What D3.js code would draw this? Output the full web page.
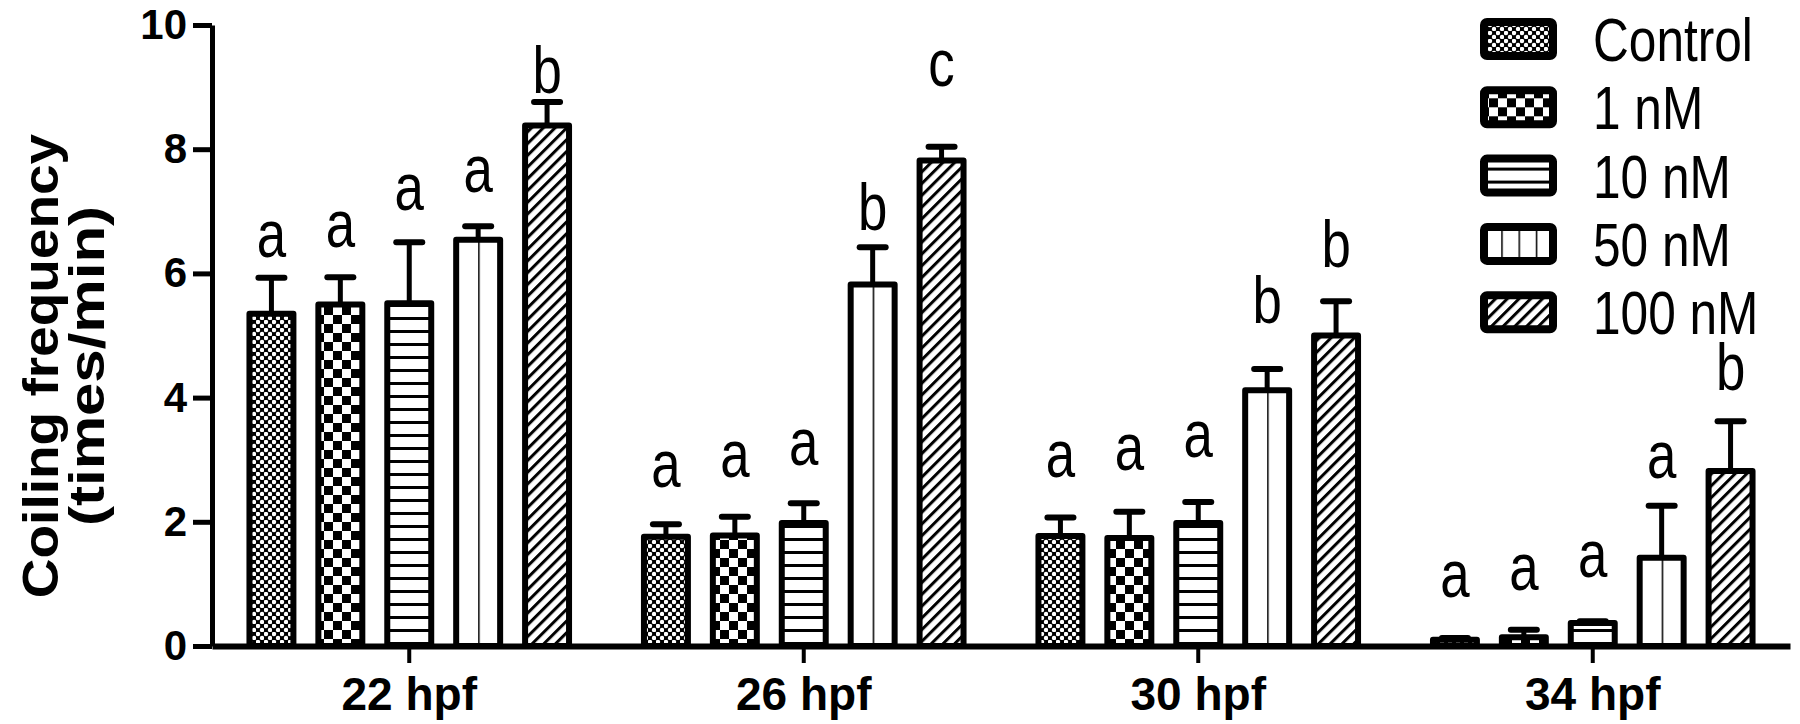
<!DOCTYPE html>
<html>
<head>
<meta charset="utf-8">
<script src="https://cdn.jsdelivr.net/npm/d3@7/dist/d3.min.js"></script>
<style>
body{margin:0;background:#fff}
text{font-family:"Liberation Sans",Arial,sans-serif;fill:#000}
</style>
</head>
<body>
<svg id="chart" width="1800" height="724"></svg>
<script>

var groups = ["22 hpf","26 hpf","30 hpf","34 hpf"]
var series = ["Control","1 nM","10 nM","50 nM","100 nM"]

// mean coiling frequency, one value per time point
var control = [5.35,1.76,1.77,0.10]
var nm1 = [5.50,1.78,1.74,0.14]
var nm10 = [5.52,1.98,1.98,0.37]
var nm50 = [6.54,5.82,4.12,1.42]
var nm100 = [8.38,7.82,5.00,2.82]

// upper error bars
var errControl = [0.58,0.20,0.30,0.03]
var err1 = [0.44,0.30,0.42,0.12]
var err10 = [0.98,0.32,0.34,0.03]
var err50 = [0.22,0.60,0.34,0.84]
var err100 = [0.38,0.22,0.55,0.80]

// significance letters, per time point
var letters22 = ["a","a","a","a","b"]
var letters26 = ["a","a","a","b","c"]
var letters30 = ["a","a","a","b","b"]
var letters34 = ["a","a","a","a","b"]
// where each letter sits, in axis units
var letterAt22 = [6.26,6.42,7.02,7.31,8.9]
var letterAt26 = [2.56,2.72,2.92,6.7,9.02]
var letterAt30 = [2.72,2.83,3.04,5.2,6.1]
var letterAt34 = [0.79,0.9,1.11,2.7,4.12]

var yTicks = [0,2,4,6,8,10]

var means = [control,nm1,nm10,nm50,nm100]
var errs = [errControl,err1,err10,err50,err100]
var letters = [letters22,letters26,letters30,letters34]
var letterAt = [letterAt22,letterAt26,letterAt30,letterAt34]
var fills = ["url(#p-dots)","url(#p-check)","url(#p-hline)","url(#p-vline)","url(#p-hatch)"]
var legendFills = ["url(#p-dots)","url(#p-check)","url(#p-hline)","url(#p-vline-leg)","url(#p-hatch)"]

var rows = []
groups.forEach((g,gi)=>{
	series.forEach((s,si)=>{
		rows.push({group:g,series:s,si:si,mean:means[si][gi],err:errs[si][gi],letter:letters[gi][si],at:letterAt[gi][si]})
	})
})

var svg = d3.select("#chart")
var defs = svg.append("defs")

// control: fine dots
var p = defs.append("pattern").attr("id","p-dots").attr("patternUnits","userSpaceOnUse").attr("width",8).attr("height",8)
p.append("rect").attr("width",8).attr("height",8).attr("fill","#000")
p.append("circle").attr("cx",2).attr("cy",2).attr("r",2.2).attr("fill","#fff")
p.append("circle").attr("cx",6).attr("cy",6).attr("r",2.2).attr("fill","#fff")

// 1 nM: checkerboard
p = defs.append("pattern").attr("id","p-check").attr("patternUnits","userSpaceOnUse").attr("width",18).attr("height",18)
p.append("rect").attr("width",18).attr("height",18).attr("fill","#fff")
p.append("rect").attr("width",9).attr("height",9).attr("fill","#000")
p.append("rect").attr("x",9).attr("y",9).attr("width",9).attr("height",9).attr("fill","#000")

// 10 nM: horizontal lines
p = defs.append("pattern").attr("id","p-hline").attr("patternUnits","userSpaceOnUse").attr("width",13).attr("height",13)
p.append("rect").attr("width",13).attr("height",13).attr("fill","#fff")
p.append("rect").attr("y",5).attr("width",13).attr("height",3).attr("fill","#000")

// 50 nM: one vertical line through the middle of a bar
p = defs.append("pattern").attr("id","p-vline").attr("patternUnits","objectBoundingBox").attr("width",0.5).attr("height",1)
p.append("rect").attr("width",100).attr("height",2000).attr("fill","#fff")
p.append("rect").attr("x",-1.5).attr("width",3).attr("height",2000).attr("fill","#000")
p = defs.append("pattern").attr("id","p-vline-leg").attr("patternUnits","objectBoundingBox").attr("width",0.25).attr("height",1)
p.append("rect").attr("width",100).attr("height",200).attr("fill","#fff")
p.append("rect").attr("x",-1.5).attr("width",3).attr("height",200).attr("fill","#000")

// 100 nM: diagonal hatch
p = defs.append("pattern").attr("id","p-hatch").attr("patternUnits","userSpaceOnUse").attr("width",8.3).attr("height",8.3)
	.attr("patternTransform","rotate(45)")
p.append("rect").attr("width",8.3).attr("height",8.3).attr("fill","#fff")
p.append("rect").attr("width",3).attr("height",8.3).attr("fill","#000")

var x0 = d3.scaleBand().domain(groups).range([212,1790]).padding(0)
var x1 = d3.scaleBand().domain(series).range([0,x0.bandwidth()]).paddingInner(0.275).paddingOuter(0.5)
var y = d3.scaleLinear().domain([0,10]).range([646,25])

var bw = 6 // bar outline

var bars = svg.append("g")
bars.selectAll("rect.bar").data(rows).enter().append("rect")
	.attr("class","bar")
	.attr("x",d=>x0(d.group)+x1(d.series)+bw/2)
	.attr("width",x1.bandwidth()-bw)
	.attr("y",d=>y(d.mean))
	.attr("height",d=>y(0)-y(d.mean))
	.attr("fill",d=>fills[d.si])
	.attr("stroke","#000")
	.attr("stroke-width",bw)
	.attr("stroke-linejoin","round")

// error bars
bars.selectAll("line.err").data(rows).enter().append("line")
	.attr("x1",d=>x0(d.group)+x1(d.series)+x1.bandwidth()/2)
	.attr("x2",d=>x0(d.group)+x1(d.series)+x1.bandwidth()/2)
	.attr("y1",d=>y(d.mean))
	.attr("y2",d=>y(d.mean+d.err))
	.attr("stroke","#000").attr("stroke-width",5)
bars.selectAll("line.cap").data(rows).enter().append("line")
	.attr("x1",d=>x0(d.group)+x1(d.series)+x1.bandwidth()/2-13)
	.attr("x2",d=>x0(d.group)+x1(d.series)+x1.bandwidth()/2+13)
	.attr("y1",d=>y(d.mean+d.err))
	.attr("y2",d=>y(d.mean+d.err))
	.attr("stroke","#000").attr("stroke-width",6).attr("stroke-linecap","round")

// letters above the error bars
bars.selectAll("text.letter").data(rows).enter().append("text")
	.attr("transform",d=>"translate("+(x0(d.group)+x1(d.series)+x1.bandwidth()/2)+","+y(d.at)+") scale(0.8,1)")
	.attr("text-anchor","middle")
	.attr("font-size","66px")
	.text(d=>d.letter)

// axes
var yAxis = svg.append("g").attr("transform","translate(212,0)")
	.call(d3.axisLeft(y).tickValues(yTicks).tickSize(19).tickSizeOuter(0).tickPadding(6))
yAxis.select(".domain").attr("stroke-width",5)
yAxis.selectAll(".tick line").attr("stroke-width",5)
yAxis.selectAll("text").attr("font-size","42px").attr("font-weight","bold").attr("font-family","Liberation Sans, Arial, sans-serif")

var xAxis = svg.append("g").attr("transform","translate(0,646)")
	.call(d3.axisBottom(x0).tickSize(17).tickSizeOuter(0).tickPadding(14))
xAxis.select(".domain").attr("stroke-width",6)
xAxis.selectAll(".tick line").attr("stroke-width",4)
xAxis.selectAll("text").attr("font-size","46px").attr("font-weight","bold").attr("font-family","Liberation Sans, Arial, sans-serif")

// y title
svg.append("text")
	.attr("transform","translate(58,366) rotate(-90) scale(1.1,1)")
	.attr("text-anchor","middle").attr("font-size","50px").attr("font-weight","bold")
	.text("Coiling frequency")
svg.append("text")
	.attr("transform","translate(104,366) rotate(-90) scale(1.2,1)")
	.attr("text-anchor","middle").attr("font-size","50px").attr("font-weight","bold")
	.text("(times/min)")

// legend
var leg = svg.append("g").selectAll("g").data(series).enter().append("g")
	.attr("transform",(d,i)=>"translate(1480,"+(39+i*68.3)+")")
leg.append("rect")
	.attr("x",4).attr("y",-17).attr("width",69).attr("height",34).attr("rx",3)
	.attr("fill",(d,i)=>legendFills[i])
	.attr("stroke","#000").attr("stroke-width",8)
leg.append("text")
	.attr("transform","translate(113,22) scale(0.8,1)")
	.attr("font-size","62px")
	.text(d=>d)

</script>
</body>
</html>
